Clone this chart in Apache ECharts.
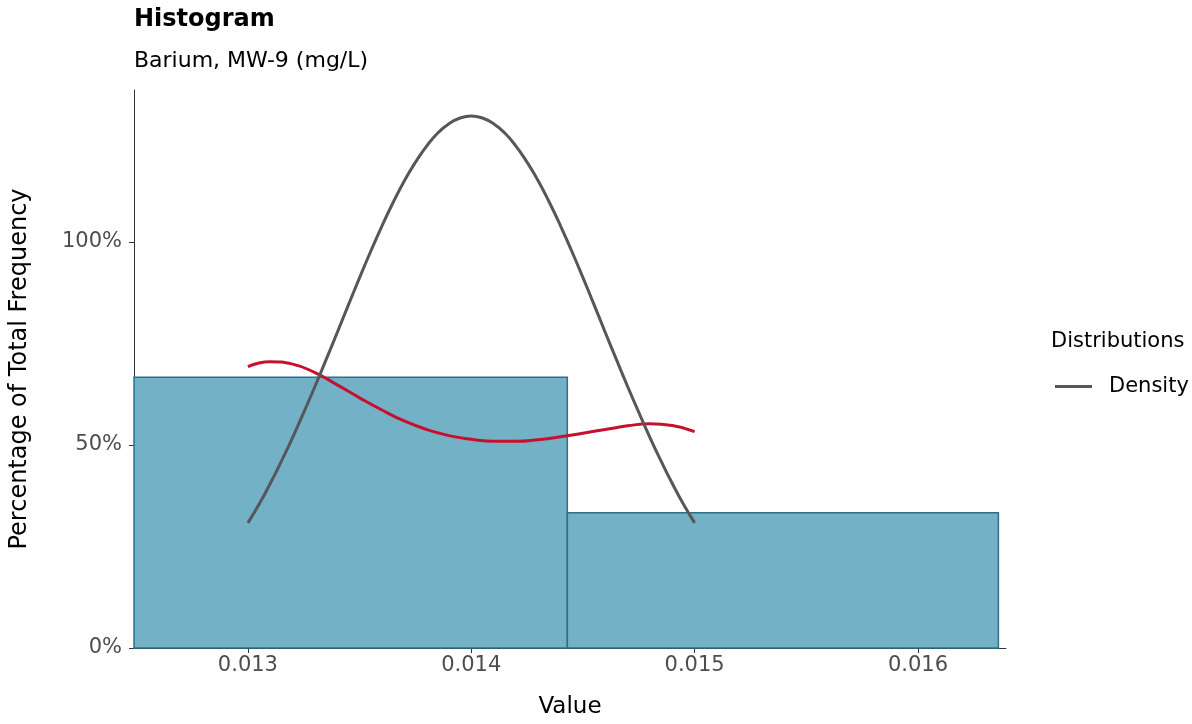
<!DOCTYPE html>
<html>
<head>
<meta charset="utf-8">
<script src="https://cdn.jsdelivr.net/npm/echarts@6/dist/echarts.min.js"></script>
<style>
  html, body { margin: 0; padding: 0; background: #fff; }
  #chart { width: 1192px; height: 724px; }
</style>
</head>
<body>
<div id="chart"></div>
<script>
// histogram bins: [start, end, percent of total]
var binStarts = [0.01249, 0.01443];
var binEnds = [0.01443, 0.01636];
var binPercents = [66.67, 33.33];

// normal density curve (scaled to percent)
var densityX = [0.01300, 0.01305, 0.01310, 0.01315, 0.01320, 0.01325, 0.01330, 0.01335, 0.01340, 0.01345,
                0.01350, 0.01355, 0.01360, 0.01365, 0.01370, 0.01375, 0.01380, 0.01385, 0.01390, 0.01395,
                0.01400, 0.01405, 0.01410, 0.01415, 0.01420, 0.01425, 0.01430, 0.01435, 0.01440, 0.01445,
                0.01450, 0.01455, 0.01460, 0.01465, 0.01470, 0.01475, 0.01480, 0.01485, 0.01490, 0.01495, 0.01500];
var densityY = [30.8, 35.4, 40.5, 46.0, 51.8, 58.0, 64.4, 71.0, 77.7, 84.5,
                91.2, 97.7, 103.9, 109.7, 115.0, 119.6, 123.6, 126.8, 129.1, 130.5,
                131.0, 130.5, 129.1, 126.8, 123.6, 119.6, 115.0, 109.7, 103.9, 97.7,
                91.2, 84.5, 77.7, 71.0, 64.4, 58.0, 51.8, 46.0, 40.5, 35.4, 30.8];

// kernel curve (red)
var kernelX = [0.0130, 0.0131, 0.0132, 0.0133, 0.0134, 0.0135, 0.0136, 0.0137, 0.0138, 0.0139, 0.0140,
               0.0141, 0.0142, 0.0143, 0.0144, 0.0145, 0.0146, 0.0147, 0.0148, 0.0149, 0.0150];
var kernelY = [69.3, 70.5, 69.9, 67.8, 64.8, 61.6, 58.6, 55.9, 53.8, 52.3, 51.4,
               50.9, 50.9, 51.3, 52.0, 52.9, 53.8, 54.7, 55.2, 54.8, 53.3];

var xTicks = [0.013, 0.014, 0.015, 0.016];
var yTicks = [0, 50, 100];

var barData = binStarts.map(function (s, i) { return [s, binEnds[i], binPercents[i]]; });
var densityData = densityX.map(function (x, i) { return [x, densityY[i]]; });
var kernelData = kernelX.map(function (x, i) { return [x, kernelY[i]]; });

var FONT = 'DejaVu Sans, sans-serif';

var chart = echarts.init(document.getElementById('chart'));
var option = {
  backgroundColor: '#fff',
  textStyle: { fontFamily: FONT },
  title: [
    {
      text: 'Histogram',
      subtext: 'Barium, MW-9 (mg/L)',
      left: 129,
      top: 3,
      itemGap: 18,
      textStyle: { fontSize: 24, fontWeight: 'bold', color: '#000', fontFamily: FONT },
      subtextStyle: { fontSize: 22, color: '#000', fontFamily: FONT }
    },
    {
      text: 'Distributions',
      left: 1046,
      top: 326,
      textStyle: { fontSize: 21, fontWeight: 'normal', color: '#000', fontFamily: FONT }
    }
  ],
  legend: {
    data: [{ name: 'Density', icon: 'rect' }],
    left: 1050,
    top: 371,
    itemWidth: 37,
    itemHeight: 3,
    textStyle: { fontSize: 21, color: '#000', fontFamily: FONT, padding: [0, 0, 0, 12] }
  },
  grid: { left: 134, right: 186, top: 90, bottom: 76, containLabel: false },
  xAxis: {
    type: 'value',
    min: 0.01249,
    max: 0.016394,
    name: 'Value',
    nameLocation: 'middle',
    nameGap: 48,
    nameTextStyle: { fontSize: 23, color: '#000' },
    axisLine: { show: true, lineStyle: { color: '#333', width: 1 } },
    axisTick: { show: true, length: 5, lineStyle: { color: '#333' }, customValues: xTicks },
    axisLabel: { fontSize: 21, color: '#4d4d4d', margin: 7, customValues: xTicks,
                 formatter: function (v) { return v.toFixed(3); } },
    splitLine: { show: false }
  },
  yAxis: {
    type: 'value',
    min: 0,
    max: 137.4,
    name: 'Percentage of Total Frequency',
    nameLocation: 'middle',
    nameGap: 102,
    nameTextStyle: { fontSize: 24, color: '#000' },
    axisLine: { show: true, lineStyle: { color: '#333', width: 1 } },
    axisTick: { show: true, length: 5, lineStyle: { color: '#333' }, customValues: yTicks },
    axisLabel: { fontSize: 21, color: '#4d4d4d', margin: 12, customValues: yTicks,
                 formatter: function (v) { return v + '%'; } },
    splitLine: { show: false }
  },
  series: [
    {
      name: 'Histogram',
      type: 'custom',
      renderItem: function (params, api) {
        var p0 = api.coord([api.value(0), 0]);
        var p1 = api.coord([api.value(1), api.value(2)]);
        return {
          type: 'rect',
          shape: { x: p0[0], y: p1[1], width: p1[0] - p0[0], height: p0[1] - p1[1] },
          style: { fill: '#72b1c6', stroke: '#2e7186', lineWidth: 1.5 }
        };
      },
      encode: { x: [0, 1], y: 2 },
      data: barData,
      z: 1
    },
    {
      name: 'Density',
      type: 'line',
      smooth: true,
      showSymbol: false,
      lineStyle: { color: '#555759', width: 3 },
      itemStyle: { color: '#555759' },
      data: densityData,
      z: 3
    },
    {
      name: 'Kernel',
      type: 'line',
      smooth: true,
      showSymbol: false,
      lineStyle: { color: '#c8102e', width: 3 },
      itemStyle: { color: '#c8102e' },
      data: kernelData,
      z: 2
    }
  ]
};
chart.setOption(option);
</script>
</body>
</html>
